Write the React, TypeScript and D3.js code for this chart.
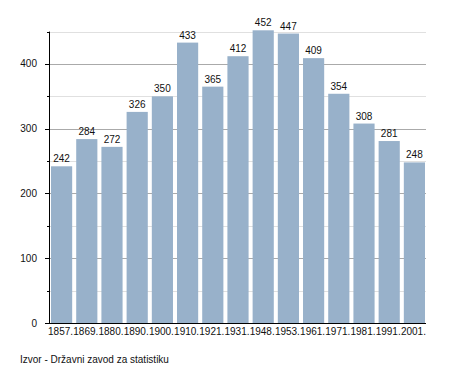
import React from "react";
import * as d3 from "d3";

const years = ["1857.", "1869.", "1880.", "1890.", "1900.", "1910.", "1921.", "1931.", "1948.", "1953.", "1961.", "1971.", "1981.", "1991.", "2001."];
const values = [242, 284, 272, 326, 350, 433, 365, 412, 452, 447, 409, 354, 308, 281, 248];
const majorTicks = [0, 100, 200, 300, 400];
const minorTicks = [50, 150, 250, 350, 450];
const source = "Izvor - Državni zavod za statistiku";

export default function App() {
  const W = 455, H = 373;
  const left = 50, right = 426, top = 31.6, bottom = 323;
  const x = d3.scaleBand<string>().domain(years).range([left, right]).paddingInner(0.16).paddingOuter(0.04);
  const y = d3.scaleLinear().domain([0, 450]).range([bottom, top]);
  const font = "'Liberation Sans', Arial, sans-serif";
  return (
    <svg width={W} height={H} style={{ position: "absolute", left: 0, top: 0 }} fontFamily={font}>
      <rect width={W} height={H} fill="#fff" />
      {minorTicks.map((t) => (
        <line key={"mi" + t} x1={left} x2={right} y1={Math.round(y(t)) + 0.5} y2={Math.round(y(t)) + 0.5} stroke="#e0e0e0" />
      ))}
      {majorTicks.filter((t) => t > 0).map((t) => (
        <line key={"ma" + t} x1={left} x2={right} y1={Math.round(y(t)) + 0.5} y2={Math.round(y(t)) + 0.5} stroke="#aaaaaa" />
      ))}
      {values.map((v, i) => (
        <rect key={"b" + i} x={x(years[i])!} y={y(v)} width={x.bandwidth()} height={bottom - y(v)} fill="#98b1ca" />
      ))}
      {values.map((v, i) => (
        <text key={"v" + i} x={x(years[i])! + x.bandwidth() / 2} y={y(v) - 4} textAnchor="middle" fontSize={10} fill="#111">{v}</text>
      ))}
      <line x1={left - 0.5} x2={left - 0.5} y1={top} y2={bottom} stroke="#000" />
      <line x1={left - 5} x2={right} y1={bottom + 0.5} y2={bottom + 0.5} stroke="#000" />
      {majorTicks.map((t) => (
        <g key={"t" + t}>
          <line x1={left - 5} x2={left} y1={Math.round(y(t)) + 0.5} y2={Math.round(y(t)) + 0.5} stroke="#000" />
          <text x={37} y={y(t) + 3.5} textAnchor="end" fontSize={10} fill="#111">{t}</text>
        </g>
      ))}
      {minorTicks.map((t) => (
        <line key={"mt" + t} x1={left - 3} x2={left} y1={Math.round(y(t)) + 0.5} y2={Math.round(y(t)) + 0.5} stroke="#000" />
      ))}
      {years.map((yr) => (
        <text key={"x" + yr} x={x(yr)! + x.bandwidth() / 2 - 1} y={bottom + 11.5} textAnchor="middle" fontSize={10} fill="#111">{yr}</text>
      ))}
      <text x={20} y={363} fontSize={10} fill="#111">{source}</text>
    </svg>
  );
}
